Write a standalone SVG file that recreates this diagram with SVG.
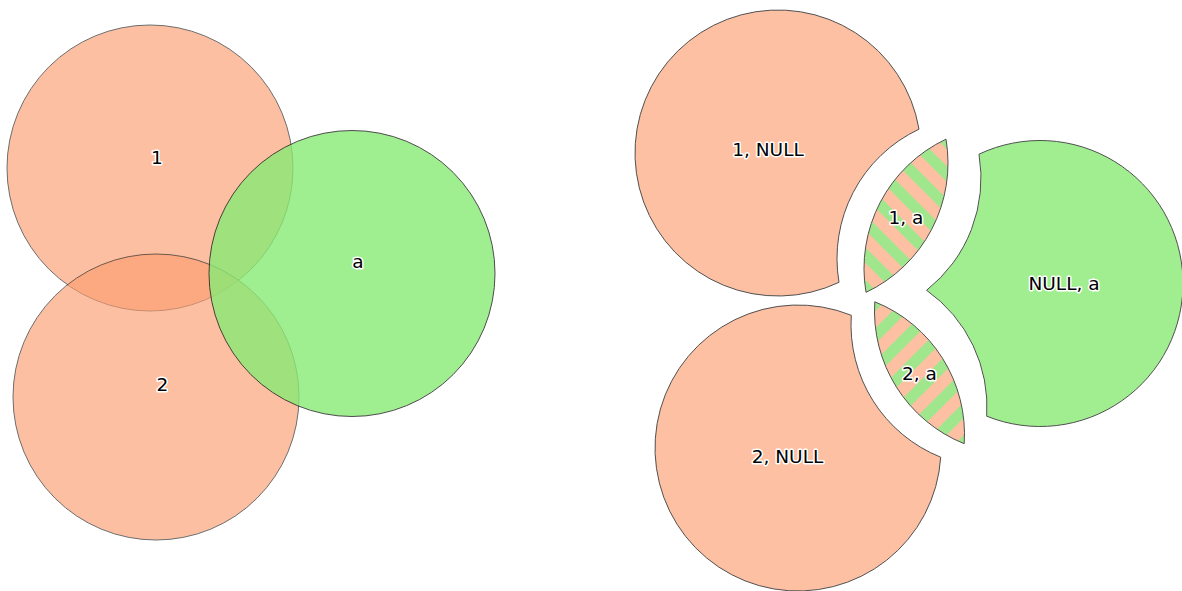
<svg xmlns="http://www.w3.org/2000/svg" width="1182" height="591" viewBox="0 0 1182 591">
  <style>
    .lbl { font-family: "DejaVu Sans", Verdana, sans-serif; font-size: 18.5px; fill: #000000; stroke: #ffffff; stroke-width: 3; stroke-linejoin: round; paint-order: stroke; text-anchor: middle; }
    .sal { fill: #fc9e70; stroke: #202020; stroke-width: 1; opacity: 0.65; }
    .grn { fill: #88ea74; stroke: #202020; stroke-width: 1; opacity: 0.8; }
    .rsal { fill: #fdc0a2; stroke: #505050; stroke-width: 1; }
    .rgrn { fill: #a0ee90; stroke: #505050; stroke-width: 1; }
    .hatch1 { fill: url(#stripeA); stroke: #505050; stroke-width: 1; }
    .hatch2 { fill: url(#stripeB); stroke: #505050; stroke-width: 1; }
  </style>
  <defs>
    <pattern id="stripeA" patternUnits="userSpaceOnUse" width="23" height="23" patternTransform="rotate(45)">
      <rect x="0" y="0" width="23" height="23" fill="#fdc0a2"/>
      <rect x="0" y="0" width="23" height="11" fill="#a0e68c"/>
    </pattern>
    <pattern id="stripeB" patternUnits="userSpaceOnUse" width="23" height="23" patternTransform="rotate(-45)">
      <rect x="0" y="0" width="23" height="23" fill="#fdc0a2"/>
      <rect x="0" y="0" width="23" height="11" fill="#a0e68c"/>
    </pattern>
  </defs>

  <rect width="1182" height="591" fill="#ffffff"/>

  <!-- Left: overlapping circles -->
  <g id="circle-1">
    <circle class="sal" cx="150" cy="168" r="143"/>
  </g>
  <g id="circle-2">
    <circle class="sal" cx="156" cy="397" r="143"/>
  </g>
  <g id="circle-a">
    <circle class="grn" cx="352" cy="273.5" r="143"/>
  </g>
  <g id="labels-left">
    <text class="lbl" x="157" y="164">1</text>
    <text class="lbl" x="162.5" y="391">2</text>
    <text class="lbl" x="358" y="268">a</text>
  </g>

  <!-- Right: exploded union -->
  <g id="part-1-null">
    <path class="rsal" d="M 919 129.17 A 143 143 0 1 0 839 282.34 A 143 143 0 0 1 919 129.17 Z"/>
    <text class="lbl" x="768" y="156">1, NULL</text>
  </g>
  <g id="part-2-null">
    <path class="rsal" d="M 851.29 315.3 A 143 143 0 1 0 940.71 457.2 A 143 143 0 0 1 851.29 315.3 Z"/>
    <text class="lbl" x="787.5" y="463">2, NULL</text>
  </g>
  <g id="part-null-a">
    <path class="rgrn" d="M 979 154.17 A 143 143 0 1 1 986.71 416.2 A 143 143 0 0 0 926.58 290.26 A 143 143 0 0 0 979 154.17 Z"/>
    <text class="lbl" x="1064" y="290">NULL, a</text>
  </g>
  <g id="part-1-a">
    <path class="hatch1" d="M 946 139.17 A 143 143 0 0 1 866 292.34 A 143 143 0 0 1 946 139.17 Z"/>
    <text class="lbl" x="906" y="224">1, a</text>
  </g>
  <g id="part-2-a">
    <path class="hatch2" d="M 874.79 301.8 A 143 143 0 0 1 964.21 443.7 A 143 143 0 0 1 874.79 301.8 Z"/>
    <text class="lbl" x="919.5" y="380">2, a</text>
  </g>
  <g id="connectors"/>
</svg>
